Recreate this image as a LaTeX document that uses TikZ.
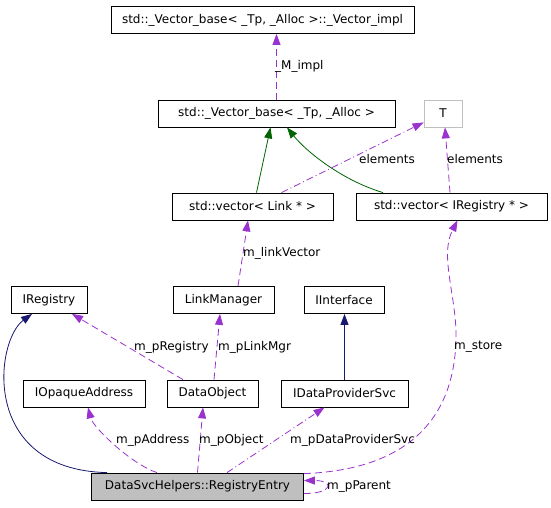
\documentclass[tikz,border=0pt]{standalone}
\usepackage{fontspec}
\setmainfont{DejaVu Sans}
\usetikzlibrary{arrows.meta}
\definecolor{usepurple}{HTML}{9A32CD}
\definecolor{inhgreen}{HTML}{006400}
\definecolor{inhnavy}{HTML}{191970}
\definecolor{boxgray}{HTML}{BFBFBF}
\begin{document}
\begin{tikzpicture}[x=1pt,y=-1pt,
    cls/.style={draw=black,line width=0.8pt,minimum height=27pt,inner xsep=0pt,
      font=\fontsize{12}{14}\selectfont},
    lbl/.style={anchor=west,inner sep=0pt,font=\fontsize{12}{14}\selectfont},
    tip/.style={-{Triangle[length=11pt,width=8pt]}},
    uses/.style={tip,draw=usepurple,fill=none,line width=0.8pt,dash pattern=on 7pt off 4pt},
    usesdot/.style={uses,dash pattern=on 7pt off 3pt on 1pt off 3pt},
    inhg/.style={tip,draw=inhgreen,line width=0.8pt},
    inhn/.style={tip,draw=inhnavy,line width=0.8pt}]
  \useasboundingbox (0,0) rectangle (551,507);
  \draw
    (262.5,20) node[cls,minimum width=303pt] (impl){std::\_Vector\_base< \_Tp, \_Alloc >::\_Vector\_impl}
    (276.5,113.5) node[cls,minimum width=237pt] (base){std::\_Vector\_base< \_Tp, \_Alloc >}
    (443,113.5) node[cls,draw=boxgray,minimum width=38pt] (T){T}
    (252.5,206.5) node[cls,minimum width=161pt] (vlink){std::vector< Link * >}
    (451.5,206.5) node[cls,minimum width=191pt] (vreg){std::vector< IRegistry * >}
    (49,300) node[cls,minimum width=76pt] (ireg){IRegistry}
    (223.5,300) node[cls,minimum width=101pt] (lmgr){LinkManager}
    (344,300) node[cls,minimum width=80pt] (iintf){IInterface}
    (84,393.5) node[cls,minimum width=122pt] (iopq){IOpaqueAddress}
    (212.5,393.5) node[cls,minimum width=91pt] (dobj){DataObject}
    (344.5,393.5) node[cls,minimum width=127pt] (idps){IDataProviderSvc}
    (197.5,486.5) node[cls,fill=boxgray,minimum width=212pt] (entry){DataSvcHelpers::RegistryEntry};
  \coordinate (storebend) at (456,335);
  % inheritance
  \begin{scope}
    \draw[inhg] ([xshift=4pt]vlink.north) to ([xshift=-6pt]base.south);
    \draw[inhg] ([xshift=-68.5pt]vreg.north) .. controls +(-40,-12) and +(20,25) .. ([xshift=10.5pt]base.south);
    \draw[inhn] (idps.north) to (idps.north |- iintf.south);
    \draw[inhn] ([xshift=-90.5pt]entry.north) .. controls +(-127,-3) and +(-37,27) .. ([xshift=-17pt]ireg.south);
  \end{scope}
  % usage
  \begin{scope}
    \draw[uses] (base.north) to ([xshift=14pt]impl.south);
    \draw[usesdot] ([xshift=29pt]vlink.north) to ([yshift=5pt]T.south west);
    \draw[uses] ([xshift=-1.5pt]vreg.north) to ([xshift=2pt]T.south);
    \draw[uses] ([xshift=14.5pt]lmgr.north) to ([xshift=-4.5pt]vlink.south);
    \draw[uses] ([xshift=-29.5pt]dobj.north) to ([xshift=23pt]ireg.south);
    \draw[uses] ([xshift=1.5pt]dobj.north) to ([xshift=-3.5pt]lmgr.south);
    \draw[uses] ([xshift=-40.5pt]entry.north) .. controls +(-25,-8) and +(5,20) .. ([xshift=4pt]iopq.south);
    \draw[uses] (entry.north) to ([xshift=-9.5pt]dobj.south);
    \draw[usesdot] ([xshift=29.5pt]entry.north) to ([xshift=-20pt]idps.south);
    \draw[uses] ([yshift=-1pt]entry.north east) .. controls +(135,-5) and +(0,50) .. (storebend)
      .. controls +(0,-40) and +(-18,35) .. ([xshift=6pt]vreg.south);
    \draw[uses] ([yshift=-7pt]entry.east) .. controls +(30,0) and +(30,0) .. ([yshift=6pt]entry.east);
  \end{scope}
  % labels
  \node[lbl] (limpl) at (275,66) {\_M\_impl};
  \node[lbl] (lel1) at (359,159) {elements};
  \node[lbl] (lel2) at (447,159) {elements};
  \node[lbl] (llink) at (243,253) {m\_linkVector};
  \node[lbl] (lreg) at (134,347) {m\_pRegistry};
  \node[lbl] (lmgrl) at (218,347) {m\_pLinkMgr};
  \node[lbl] (lstore) at (454,347) {m\_store};
  \node[lbl] (laddr) at (116,440) {m\_pAddress};
  \node[lbl] (lobj) at (199,440) {m\_pObject};
  \node[lbl] (ldps) at (290,440) {m\_pDataProviderSvc};
  \node[lbl] (lpar) at (327,487) {m\_pParent};
\end{tikzpicture}
\end{document}
